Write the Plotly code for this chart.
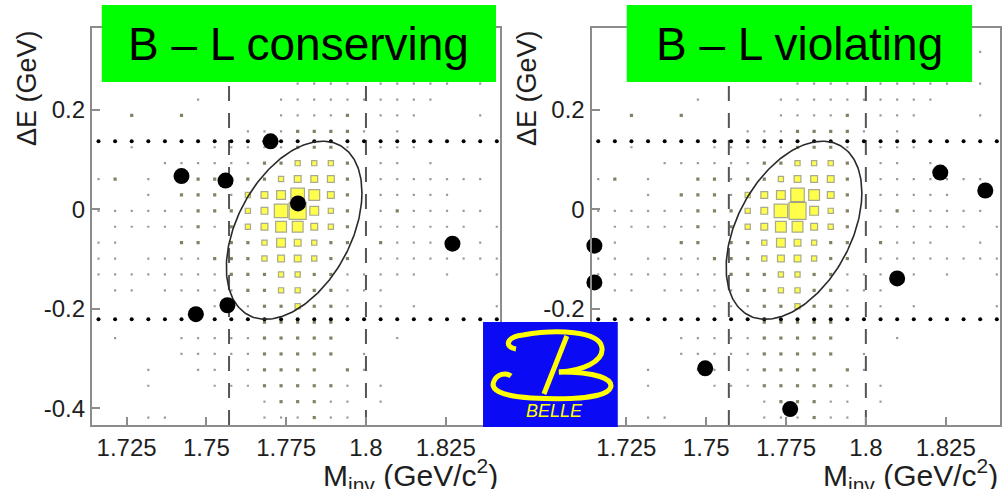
import numpy as np
import plotly.graph_objects as go

W, H = 1002, 489

# ---------------- data ----------------
# axis ranges
x_range = [1.7141, 1.8420]
y_range = [-0.434, 0.365]
x_ticks = [1.725, 1.75, 1.775, 1.8, 1.825]
x_ticktext = ["1.725", "1.75", "1.775", "1.8", "1.825"]
y_ticks = [-0.4, -0.2, 0.0, 0.2]
y_ticktext = ["-0.4", "-0.2", "0", "0.2"]

# signal-MC box histogram (25 x 25 bins); level 0 = empty ... 8 = largest box
hist_x_first = 1.7162
hist_x_step = 0.0052
hist_y_first = -0.419
hist_y_step = 0.032
hist_rows_top_to_bottom = [
    ".........................",
    ".......................1.",
    ".........................",
    "............1111.11111.1.",
    "......1....1111111111....",
    "..2..2.....11112.111...1.",
    ".........11122221.1......",
    "..1....111112221.111.....",
    "....111111223332.11.1....",
    "12.1..2212234442.1111111.",
    "...1.22213457642.11111...",
    "1111112223478532.1211111.",
    ".111112123466432.111111.1",
    "11...22.22354322.2111..1.",
    "11.1111222344322.11111111",
    "11111111222332211111.1..1",
    ".11.11111223322111.......",
    ".......111223221.1.1....1",
    "..........22222..........",
    ".1...1111122222...1......",
    ".....1111122222.1........",
    "...1..11.12222.21........",
    "...1...111222221.1.......",
    "..........122211.1.......",
    "...11.....111211.........",
]

# candidate events
cons_x = [1.7422, 1.7560, 1.7701, 1.7787, 1.8271, 1.7566, 1.7467]
cons_y = [0.067, 0.058, 0.137, 0.012, -0.069, -0.193, -0.211]
viol_x = [1.8233, 1.8374, 1.7150, 1.7150, 1.8098, 1.7497, 1.7763]
viol_y = [0.074, 0.038, -0.073, -0.147, -0.139, -0.320, -0.402]

# signal region / windows
minv_window = [1.7571, 1.8000]
de_window = [-0.221, 0.137]
ell_center = [1.7775, -0.042]
ell_sigma = [0.02125, 0.1792]
ell_rho = 0.42

panel_titles = ["B – L conserving", "B – L violating"]

# ---------------- styling ----------------
LEVEL_SIZE = {1: 2.2, 2: 3.2, 3: 5.2, 4: 6.8, 5: 8.8, 6: 10.8, 7: 13.5, 8: 17.0}
AXIS_GREY = "#8c8c8c"
TXT = "#1e1e1e"
FONT = "Liberation Sans, Arial, sans-serif"

def px2x(px):
    return px / W

def py2y(py):
    return 1 - py / H

# histogram points
n_rows = len(hist_rows_top_to_bottom)
hx_small, hy_small, hs_small, hc_small = [], [], [], []
hx_big, hy_big, hs_big = [], [], []
for r, row in enumerate(hist_rows_top_to_bottom):
    j = n_rows - 1 - r
    yc = hist_y_first + hist_y_step * j
    for i, ch in enumerate(row):
        if ch == ".":
            continue
        lev = int(ch)
        xc = hist_x_first + hist_x_step * i
        if lev <= 2:
            hx_small.append(xc); hy_small.append(yc)
            hs_small.append(LEVEL_SIZE[lev])
            hc_small.append("#707070" if lev == 1 else "#4f4f22")
        else:
            hx_big.append(xc); hy_big.append(yc)
            hs_big.append(LEVEL_SIZE[lev])

col_centres = [hist_x_first + hist_x_step * i for i in range(25)]

t = np.linspace(0, 2 * np.pi, 240)
ell_x = ell_center[0] + ell_sigma[0] * np.cos(t)
ell_y = ell_center[1] + ell_sigma[1] * (ell_rho * np.cos(t) + np.sqrt(1 - ell_rho ** 2) * np.sin(t))

fig = go.Figure()

panels = [("x", "y", cons_x, cons_y), ("x2", "y2", viol_x, viol_y)]
for xa, ya, px_, py_ in panels:
    fig.add_trace(go.Scatter(x=hx_small, y=hy_small, mode="markers", xaxis=xa, yaxis=ya,
                             marker=dict(symbol="square", size=hs_small, color=hc_small,
                                         line=dict(width=0)), hoverinfo="skip"))
    fig.add_trace(go.Scatter(x=hx_big, y=hy_big, mode="markers", xaxis=xa, yaxis=ya,
                             marker=dict(symbol="square", size=hs_big, color="#ffff00",
                                         line=dict(width=1.2, color="#858560")), hoverinfo="skip"))
    for yv in de_window:
        fig.add_trace(go.Scatter(x=col_centres, y=[yv] * len(col_centres), mode="markers",
                                 xaxis=xa, yaxis=ya, marker=dict(size=4, color="black"),
                                 hoverinfo="skip"))
    fig.add_trace(go.Scatter(x=ell_x, y=ell_y, mode="lines", xaxis=xa, yaxis=ya,
                             line=dict(color="#2a2a2a", width=1.6), hoverinfo="skip"))
    fig.add_trace(go.Scatter(x=px_, y=py_, mode="markers", xaxis=xa, yaxis=ya, cliponaxis=False,
                             marker=dict(size=16, color="black"), hoverinfo="skip"))

shapes = []
for xa in ["x", "x2"]:
    for xv in minv_window:
        shapes.append(dict(type="line", xref=xa, yref=("y" if xa == "x" else "y2") + " domain",
                           x0=xv, x1=xv, y0=0, y1=1, layer="below",
                           line=dict(color="#555555", width=2, dash="15px,12px")))

# green title boxes
boxes = [(102, 497), (628, 974)]
for (bx0, bx1) in boxes:
    shapes.append(dict(type="rect", xref="paper", yref="paper", x0=px2x(bx0), x1=px2x(bx1),
                       y0=py2y(82), y1=py2y(5), fillcolor="#00ff00", line=dict(width=0),
                       layer="above"))

# Belle logo
shapes.append(dict(type="rect", xref="paper", yref="paper", x0=px2x(484), x1=px2x(619),
                   y0=py2y(427), y1=py2y(322), fillcolor="#0a0af5", line=dict(width=0),
                   layer="above"))

def path_px(segs):
    out = []
    for cmd, pts in segs:
        out.append(cmd + " " + " ".join(f"{px2x(a):.5f},{py2y(b):.5f}" for a, b in pts))
    return " ".join(out)

upper = [("M", [(517, 349)]), ("C", [(505, 347), (507, 337), (524, 335)]),
         ("C", [(558, 329), (600, 331), (603, 347)]), ("C", [(606, 362), (582, 371), (560, 372)])]
lower = [("M", [(560, 372)]), ("C", [(598, 372), (614, 379), (612, 387)]),
         ("C", [(609, 398), (572, 400), (532, 398)]), ("C", [(500, 396), (491, 389), (495, 381)]),
         ("C", [(498, 374), (507, 372), (512, 376)])]
stem = [("M", [(568, 336)]), ("L", [(545, 394)])]
for seg, wdt in [(upper, 5), (lower, 5), (stem, 5)]:
    shapes.append(dict(type="path", xref="paper", yref="paper", path=path_px(seg),
                       line=dict(color="#ffff00", width=wdt), layer="above"))

annotations = []
for (bx0, bx1), txt in zip(boxes, panel_titles):
    annotations.append(dict(xref="paper", yref="paper", x=px2x((bx0 + bx1) / 2), y=py2y(44),
                            text=txt, showarrow=False, xanchor="center", yanchor="middle",
                            font=dict(family=FONT, size=46, color="black")))
annotations.append(dict(xref="paper", yref="paper", x=px2x(556), y=py2y(411), text="<i>BELLE</i>",
                        showarrow=False, xanchor="center", yanchor="middle",
                        font=dict(family=FONT, size=18, color="#ffff00")))
for tx in [27, 528]:
    annotations.append(dict(xref="paper", yref="paper", x=px2x(tx), y=py2y(88), text="ΔE (GeV)",
                            textangle=-90, showarrow=False, xanchor="center", yanchor="middle",
                            font=dict(family=FONT, size=27, color=TXT)))
for tx in [501, 1002]:
    annotations.append(dict(xref="paper", yref="paper", x=px2x(tx), y=py2y(452),
                            text="M<sub>inv</sub> (GeV/c<sup>2</sup>)", showarrow=False,
                            xanchor="right", yanchor="top",
                            font=dict(family=FONT, size=30, color=TXT)))

axis_common = dict(showgrid=False, zeroline=False, showline=True, linecolor=AXIS_GREY,
                   linewidth=2, mirror=True, ticks="inside", ticklen=8, tickwidth=2,
                   tickcolor=AXIS_GREY, tickfont=dict(family=FONT, size=24, color=TXT))

fig.update_layout(
    width=W, height=H, margin=dict(l=0, r=0, t=0, b=0),
    paper_bgcolor="white", plot_bgcolor="white", showlegend=False,
    xaxis=dict(domain=[px2x(92), px2x(501)], range=x_range, tickvals=x_ticks,
               ticktext=x_ticktext, anchor="y", ticklabelstandoff=0, **axis_common),
    yaxis=dict(domain=[py2y(425), py2y(28)], range=y_range, tickvals=y_ticks,
               ticktext=y_ticktext, anchor="x", ticklabelstandoff=0, **axis_common),
    xaxis2=dict(domain=[px2x(592.7), 1.0], range=x_range, tickvals=x_ticks,
                ticktext=x_ticktext, anchor="y2", ticklabelstandoff=0, **axis_common),
    yaxis2=dict(domain=[py2y(425), py2y(28)], range=y_range, tickvals=y_ticks,
                ticktext=y_ticktext, anchor="x2", ticklabelstandoff=0, **axis_common),
    shapes=shapes, annotations=annotations,
)

fig.write_html("out.html")
